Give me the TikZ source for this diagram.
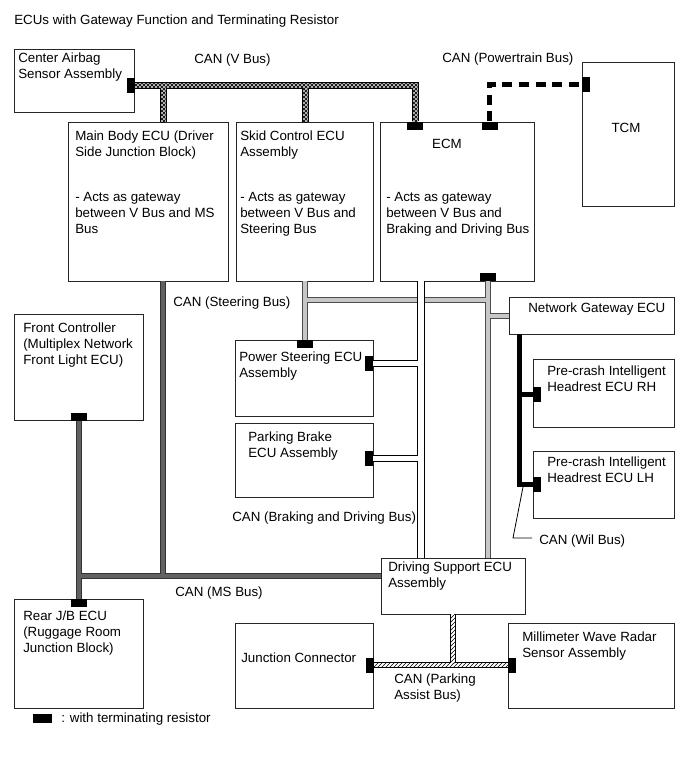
\documentclass[tikz,border=0pt]{standalone}
\usepackage{fontspec}
\setmainfont{Liberation Sans}
\usetikzlibrary{patterns}
\usetikzlibrary{fit}

\tikzset{
  ecu/.style={draw=black!85,line width=0.6pt,inner sep=0pt},
  lbl/.style={anchor=north west,inner sep=0pt,align=left,font=\fontsize{10}{12}\selectfont},
  resh/.style={fill=black,inner sep=0pt,minimum width=12pt,minimum height=6pt},
  resv/.style={fill=black,inner sep=0pt,minimum width=6pt,minimum height=11.25pt},
  vfill/.style={fill=black!25,postaction={pattern=north east lines},postaction={pattern=north west lines}},
  hfill/.style={fill=white,postaction={pattern=north east lines}},
}

\begin{document}
\begin{tikzpicture}[x=0.75pt,y=-0.75pt]
\useasboundingbox (0,0) rectangle (689,757);
% ECU boxes
\node[ecu,fit={(14,49) (134,112)}] (airbag) {};
\node[ecu,fit={(68,122) (228,281)}] (mainbody) {};
\node[ecu,fit={(236,122) (373,281)}] (skid) {};
\node[ecu,fit={(380,122) (534,281)}] (ecm) {};
\node[ecu,fit={(582,62) (674,206)}] (tcm) {};
\node[ecu,fit={(509,297) (674,334)}] (ngw) {};
\node[ecu,fit={(533,359) (674,427)}] (hrr) {};
\node[ecu,fit={(533,451) (674,518)}] (hrl) {};
\node[ecu,fit={(235,340) (373,416)}] (pwrst) {};
\node[ecu,fit={(235,423) (373,497)}] (pkb) {};
\node[ecu,fit={(14,314) (143,420)}] (frc) {};
\node[ecu,fit={(14,599) (143,708)}] (rjb) {};
\node[ecu,fit={(381,558) (525,614)}] (dsp) {};
\node[ecu,fit={(235,623) (373,708)}] (jcon) {};
\node[ecu,fit={(508,623) (674,708)}] (mwr) {};

% terminating resistors
\node[resv] (rAirbag) at (131,85.5) {};
\node[resh] (rEcmV) at (415,125.5) {};
\node[resh] (rEcmP) at (489.5,125.5) {};
\node[resv] (rTcm) at (586,84) {};
\node[resh] (rEcmB) at (488,277) {};
\node[resh] (rPwrT) at (305,344) {};
\node[resv] (rPwrR) at (369,363.5) {};
\node[resv] (rPkb) at (369,458.5) {};
\node[resh] (rFrc) at (78.5,416.5) {};
\node[resh] (rRjb) at (78.5,603) {};
\node[resv] (rHrr) at (537,394) {};
\node[resv] (rHrl) at (537,484.5) {};
\node[resv] (rJcon) at (369.5,665) {};
\node[resv] (rMwr) at (512,665) {};

\coordinate (vMb) at (163,85.5);
\coordinate (vSk) at (305,85.5);
\coordinate (stJ) at (305,300);
\coordinate (stN) at (488,316);
\coordinate (bdT) at (421,281);
\coordinate (msT) at (163,281);
\coordinate (msL) at (78.5,575.5);
\coordinate (wT) at (519.5,334);
\coordinate (wl1) at (523,487);
\coordinate (wl2) at (513,538);
\coordinate (wl3) at (532,538);

% V bus
\draw[line width=5.25pt] (rAirbag.east) -| (rEcmV.north) (vMb) -- (vMb |- mainbody.north) (vSk) -- (vSk |- skid.north);
\fill[vfill] (134.5,83) rectangle (417.5,88);
\fill[vfill] (160.5,83) rectangle (165.5,122);
\fill[vfill] (302.5,83) rectangle (307.5,122);
\fill[vfill] (412.5,83) rectangle (417.5,122);

% powertrain bus
\draw[line width=3.75pt,dash pattern=on 7.5pt off 5pt] (rEcmP.north) |- (rTcm.west);

% steering bus
\foreach \c/\w in {black!70/4.5pt,black!22/3pt}
  \draw[color=\c,line width=\w] (skid.south -| rPwrT) -- (rPwrT.north) (stJ) -| (rEcmB.south)
    (rEcmB.south) -- (rEcmB.south |- dsp.north) (stN) -- (stN -| ngw.west);

% braking and driving bus
\foreach \c/\w in {black/5.6pt,white/4.1pt}
  \draw[color=\c,line width=\w] (bdT) -- (bdT |- dsp.north) (rPwrR.east) -- (rPwrR.east -| bdT)
    (rPkb.east) -- (rPkb.east -| bdT);

% MS bus
\foreach \c/\w in {black!80/4.5pt,black!62/3pt}
  \draw[color=\c,line width=\w] (rFrc.south) -- (rRjb.north) (msT) -- (msT |- msL) (msL) -- (msL -| dsp.west);

% parking assist bus
\draw[line width=4.5pt] (rJcon.east) -- (rMwr.west) (dsp.south) -- (dsp.south |- rJcon);
\fill[hfill] (373.5,663) rectangle (508,667);
\fill[hfill] (451,614) rectangle (455,663);

% Wil bus
\draw[line width=3.75pt] (wT) |- (rHrl.west) (wT |- rHrr) -- (rHrr.west);
\draw[line width=0.6pt] (wl1) -- (wl2) -- (wl3);

% texts
\node[lbl] (title) at (14,15) {ECUs with Gateway Function and Terminating Resistor};
\node[lbl] (airbagtxt) at (18,53) {Center Airbag\\Sensor Assembly};
\node[lbl] (mainbodytxt) at (75,131) {Main Body ECU (Driver\\Side Junction Block)\\[21.75pt]- Acts as gateway\\between V Bus and MS\\Bus};
\node[lbl] (skidtxt) at (240,131) {Skid Control ECU\\Assembly\\[21.75pt]- Acts as gateway\\between V Bus and\\Steering Bus};
\node[lbl,anchor=north] (ecmtxt) at (447,139) {ECM};
\node[lbl] (ecmgw) at (386,192) {- Acts as gateway\\between V Bus and\\Braking and Driving Bus};
\node[lbl,anchor=north] (tcmtxt) at (626,123) {TCM};
\node[lbl] (ngwtxt) at (528,303) {Network Gateway ECU};
\node[lbl] (hrrtxt) at (547,366) {Pre-crash Intelligent\\Headrest ECU RH};
\node[lbl] (hrltxt) at (547,457) {Pre-crash Intelligent\\Headrest ECU LH};
\node[lbl] (pwrsttxt) at (239,352) {Power Steering ECU\\Assembly};
\node[lbl] (pkbtxt) at (248,432) {Parking Brake\\ECU Assembly};
\node[lbl] (frctxt) at (23,323) {Front Controller\\(Multiplex Network\\Front Light ECU)};
\node[lbl] (rjbtxt) at (23,611) {Rear J/B ECU\\(Ruggage Room\\Junction Block)};
\node[lbl] (dsptxt) at (388,562) {Driving Support ECU\\Assembly};
\node[lbl] (jcontxt) at (241,653) {Junction Connector};
\node[lbl] (mwrtxt) at (522,632) {Millimeter Wave Radar\\Sensor Assembly};

\node[lbl] (vbus) at (194,54) {CAN (V Bus)};
\node[lbl] (ptbus) at (442,53) {CAN (Powertrain Bus)};
\node[lbl] (stbus) at (173,297) {CAN (Steering Bus)};
\node[lbl] (bdbus) at (232,512) {CAN (Braking and Driving Bus)};
\node[lbl] (msbus) at (175,587) {CAN (MS Bus)};
\node[lbl] (pabus) at (394,674) {CAN (Parking\\Assist Bus)};
\node[lbl] (wilbus) at (539,535) {CAN (Wil Bus)};

% legend
\node[fill=black,inner sep=0pt,minimum width=14.25pt,minimum height=6.75pt] (legend) at (42.5,718.5) {};
\node[lbl] (legendtxt) at (61,713) {: with terminating resistor};
\end{tikzpicture}
\end{document}
